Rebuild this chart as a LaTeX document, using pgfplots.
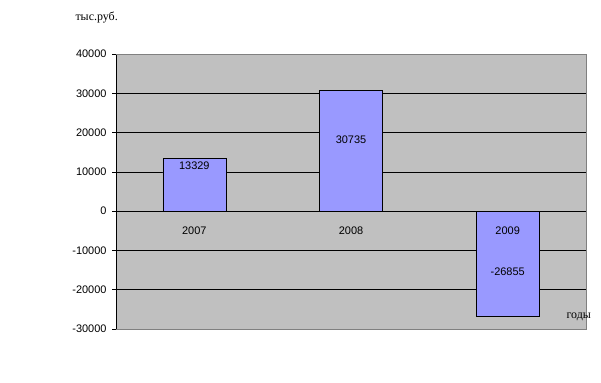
\documentclass[border=0pt]{standalone}
\usepackage{fontspec}
\setmainfont{Liberation Sans}
\newfontfamily\seriffont{Liberation Serif}
\usepackage{pgfplots}
\pgfplotsset{compat=1.18}
\definecolor{barfill}{HTML}{9999FF}
\definecolor{plotbg}{HTML}{C0C0C0}
\definecolor{borderg}{HTML}{808080}
\begin{document}
\begin{tikzpicture}[x=1bp,y=1bp]
\path[use as bounding box] (0,0) rectangle (601,382);
\begin{axis}[
  at={(116bp,53bp)}, anchor=south west,
  scale only axis, width=470bp, height=275bp,
  xmin=-0.5, xmax=2.5, ymin=-30000, ymax=40000,
  scaled y ticks=false,
  axis background/.style={fill=plotbg},
  axis x line*=middle, axis y line*=left,
  axis line style={black, line width=0.8pt},
  xtick={0,1,2}, xticklabels={,,},
  xtick style={draw=none},
  extra x ticks={0.5,1.5}, extra x tick labels={},
  extra x tick style={tick style={draw=black, line width=0.6pt}, tick align=outside, major tick length=4bp},
  ytick={-30000,-20000,-10000,0,10000,20000,30000,40000},
  yticklabels={-30000,-20000,-10000,0,10000,20000,30000,40000},
  yticklabel style={font=\fontsize{11}{13}\selectfont, xshift=-2bp},
  ytick style={black, line width=0.6pt}, tick align=outside, major tick length=4bp,
  ymajorgrids, grid style={black, line width=0.6pt},
  clip=false,
]
\addplot[ybar, bar width=63bp, fill=barfill, draw=black, line width=0.6pt]
  coordinates {(0,13329) (1,30735) (2,-26855)};
\draw[borderg, line width=0.8pt] (rel axis cs:0,0) -- (rel axis cs:1,0) -- (rel axis cs:1,1) -- (rel axis cs:0,1);
\node[font=\fontsize{11}{13}\selectfont] at (axis cs:0,-4900) {2007};
\node[font=\fontsize{11}{13}\selectfont] at (axis cs:1,-4900) {2008};
\node[font=\fontsize{11}{13}\selectfont] at (axis cs:2,-4900) {2009};
\node[font=\fontsize{11}{13}\selectfont] at (axis cs:0,11450) {13329};
\node[font=\fontsize{11}{13}\selectfont] at (axis cs:1,18070) {30735};
\node[font=\fontsize{11}{13}\selectfont] at (axis cs:2,-15520) {-26855};
\end{axis}
\node[font=\seriffont\fontsize{12}{14}\selectfont, anchor=west] at (72,364) {тыс.руб.};
\node[font=\seriffont\fontsize{12}{14}\selectfont, anchor=west] at (563,65) {годы};
\end{tikzpicture}
\end{document}
